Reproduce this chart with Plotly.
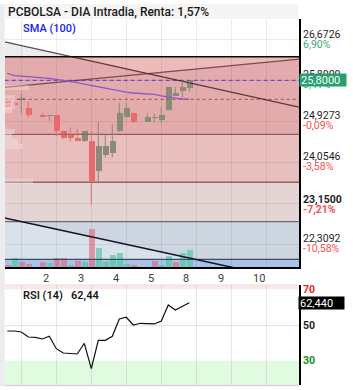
import plotly.graph_objects as go

W, H = 353, 390

# ---------------- data ----------------
idx = list(range(27))
opens = [25.395, 25.323, 25.390, 25.210, None, 25.061, 25.040, 25.061, 24.727, 24.650,
         24.565, 24.508, 24.508, 23.876, 24.210, 24.259, 24.727, 25.025, 25.110, None,
         24.919, 25.000, 24.955, 25.168, 25.472, 25.579, 25.630]
closes = [25.253, 25.268, 25.400, 25.068, None, 25.025, 25.045, 24.727, 24.578, 24.578,
          24.514, 24.721, 23.663, 24.401, 24.401, 24.508, 25.110, 25.217, 24.919, None,
          25.012, 25.005, 25.061, 25.664, 25.523, 25.664, 25.800]
highs = [25.423, 25.380, 25.508, 25.344, None, 25.097, 25.061, 25.061, 24.727, 24.799,
         24.763, 24.721, 24.721, 24.919, 24.650, 24.870, 25.317, 25.310, 25.110, None,
         25.097, 25.097, 25.238, 25.664, 25.651, 25.791, 25.800]
lows = [25.232, 25.253, 25.097, 25.012, None, 25.012, 24.940, 24.614, 24.550, 24.501,
        24.514, 24.487, 23.150, 23.607, 24.152, 24.161, 24.699, 25.012, 24.897, None,
        24.919, 24.912, 24.897, 25.153, 25.472, 25.417, 25.557]
volumes = [450, 2300, 1250, 700, None, 1250, 1060, 2400, 2400, 450,
           1600, 1300, 10000, 4950, 1300, 3100, 3700, 800, 530, None,
           None, 1600, 450, 2850, 1300, 3700, 4500]
vol_dir = ['d', 'u', 'd', 'd', None, 'd', 'u', 'd', 'd', 'u',
           'd', 'u', 'd', 'u', 'u', 'u', 'u', 'u', 'd', None,
           None, 'd', 'u', 'u', 'd', 'u', 'u']
sma100 = [25.95, 25.90, 25.89, 25.88, 25.87, 25.86, 25.84, 25.82, 25.80, 25.77,
          25.75, 25.72, 25.69, 25.66, 25.63, 25.60, 25.58, 25.55, 25.53, 25.525,
          25.52, 25.50, 25.47, 25.44, 25.42, 25.40, 25.40]
rsi14 = [46.65, 46.65, 46.09, 43.29, 43.10, 42.17, 43.68, 36.74, 34.33, 34.16,
         33.77, 39.76, 25.54, 41.44, 41.44, 43.68, 53.37, 54.32, 50.00, 50.96,
         50.96, 50.60, 52.25, 61.20, 58.41, 60.27, 62.44]

x_tick_pos = [5, 10, 15, 20, 25, 30, 35]
x_tick_labels = ['2', '3', '4', '5', '8', '9', '10']
grid_x = [2, 7, 12, 17, 22, 27, 32, 37]

price_grid = [26.6726, 25.7999, 24.9273, 24.0546, 23.1819, 22.3092]
label_values = [26.6726, 25.8000, 24.9273, 24.0546, 23.1500, 22.3092]
label_text = ['26,6726', '25,8000', '24,9273', '24,0546', '23,1500', '22,3092']
label_pct = ['6,90%', '3,41%', '-0,09%', '-3,58%', '-7,21%', '-10,58%']
label_bold = [False, False, False, False, True, False]

zone_edges = [26.30, 24.65, 23.63, 22.79, 21.99]
last_price = 25.80
ref_dotted = 25.395

trend_x = [-0.37, 41.67]
desc_y = [26.62, 25.23]
asc_y = [25.65, 26.25]
low_y = [22.87, 21.51]

vp_price = [25.647, 25.423, 25.338, 25.253, 25.157, 24.710, 24.614, 24.497, 24.391, 23.646]
vp_vol = [24, 10, 10, 10, 7, 10, 7, 13, 18, 28]

rsi_levels = [30, 50, 70]
rsi_last = 62.44

# ---------------- layout helpers ----------------
X_RANGE = [-0.371, 41.67]
Y_RANGE = [21.8258, 27.1047]
RSI_RANGE = [16.4, 72.4]
VOL_RANGE = [0, 65500]


def xp(px):
    return px / W


def yp(py):
    return 1 - py / H


XDOM = [xp(4.7), xp(299)]
YDOM = [yp(267), yp(19)]
Y2DOM = [yp(385), yp(285)]

UP_C = 'rgb(136,139,119)'
DN_C = 'rgb(232,107,107)'

fig = go.Figure()

# reference horizontal lines
fig.add_trace(go.Scatter(x=X_RANGE, y=[ref_dotted] * 2, mode='lines',
                         line=dict(color='rgb(150,80,80)', width=1, dash='dot'), hoverinfo='skip'))
fig.add_trace(go.Scatter(x=X_RANGE, y=[last_price] * 2, mode='lines',
                         line=dict(color='rgb(110,70,220)', width=1.3, dash='4px,3px'), hoverinfo='skip'))
# zone level lines (upper ones)
lvl_colors = ['rgb(10,10,10)', 'rgb(145,92,92)', 'rgb(140,100,100)']
lvl_widths = [1.6, 1.3, 1.3]
for lv, c, w in zip(zone_edges[:3], lvl_colors, lvl_widths):
    fig.add_trace(go.Scatter(x=X_RANGE, y=[lv, lv], mode='lines',
                             line=dict(color=c, width=w), hoverinfo='skip'))
# upper trend lines
fig.add_trace(go.Scatter(x=trend_x, y=desc_y, mode='lines',
                         line=dict(color='rgba(40,10,10,0.72)', width=1.3), hoverinfo='skip'))
fig.add_trace(go.Scatter(x=trend_x, y=asc_y, mode='lines',
                         line=dict(color='rgba(90,40,40,0.75)', width=1.3), hoverinfo='skip'))
# SMA
fig.add_trace(go.Scatter(x=idx, y=sma100, mode='lines',
                         line=dict(color='rgb(140,85,205)', width=1.3), hoverinfo='skip'))

# candles
for direction, col in (('u', UP_C), ('d', DN_C)):
    sel = [i for i in idx if opens[i] is not None and
           ((closes[i] >= opens[i]) == (direction == 'u'))]
    wx, wy = [], []
    for i in sel:
        wx += [i, i, None]
        wy += [lows[i], highs[i], None]
    fig.add_trace(go.Scatter(x=wx, y=wy, mode='lines', line=dict(color=col, width=1),
                             hoverinfo='skip'))
    fig.add_trace(go.Bar(x=sel, base=[min(opens[i], closes[i]) for i in sel],
                         y=[max(abs(closes[i] - opens[i]), 0.012) for i in sel],
                         width=0.85, marker=dict(color=col, line=dict(width=0)),
                         hoverinfo='skip'))

# volume (overlay axis)
vcol = {'u': 'rgba(60,200,150,0.6)', 'd': 'rgba(235,90,105,0.55)'}
vsel = [i for i in idx if volumes[i]]
fig.add_trace(go.Bar(x=vsel, y=[volumes[i] for i in vsel], yaxis='y3', width=0.85,
                     marker=dict(color=[vcol[vol_dir[i]] for i in vsel], line=dict(width=0)),
                     hoverinfo='skip'))

# volume profile (overlay x axis)
fig.add_trace(go.Bar(y=vp_price, x=vp_vol, orientation='h', xaxis='x3', width=0.11,
                     marker=dict(color='rgba(245,238,238,0.35)', line=dict(width=0)),
                     hoverinfo='skip'))

# RSI
fig.add_trace(go.Scatter(x=idx, y=rsi14, mode='lines', xaxis='x2', yaxis='y2',
                         line=dict(color='rgb(15,15,15)', width=1.2), hoverinfo='skip'))

shapes = []
# zone fills
zone_cols = ['rgb(227,171,171)', 'rgb(233,190,190)', 'rgb(229,212,212)',
             'rgb(205,214,224)', 'rgb(168,194,232)']
edges = zone_edges + [Y_RANGE[0]]
for k in range(5):
    shapes.append(dict(type='rect', xref='x domain', yref='y', x0=0, x1=1,
                       y0=edges[k + 1], y1=edges[k], fillcolor=zone_cols[k],
                       line=dict(width=0), layer='below'))


def line_at(ys, x):
    return ys[0] + (ys[1] - ys[0]) * (x - trend_x[0]) / (trend_x[1] - trend_x[0])


def x_at(ys, y):
    return trend_x[0] + (y - ys[0]) * (trend_x[1] - trend_x[0]) / (ys[1] - ys[0])


# gray triangle below descending line, above top zone
xa = x_at(desc_y, zone_edges[0])
shapes.append(dict(type='path', xref='x', yref='y', layer='below',
                   path=f'M {X_RANGE[0]},{zone_edges[0]} L {X_RANGE[0]},{line_at(desc_y, X_RANGE[0])} L {xa},{zone_edges[0]} Z',
                   fillcolor='rgb(236,236,236)', line=dict(width=0)))
# lighter pink above both trend lines in top zone
slope_d = (desc_y[1] - desc_y[0])
slope_a = (asc_y[1] - asc_y[0])
t = (asc_y[0] - desc_y[0]) / (slope_d - slope_a)
xc = trend_x[0] + t * (trend_x[1] - trend_x[0])
shapes.append(dict(type='path', xref='x', yref='y', layer='below',
                   path=(f'M {xa},{zone_edges[0]} L {X_RANGE[1]},{zone_edges[0]} '
                         f'L {X_RANGE[1]},{line_at(asc_y, X_RANGE[1])} L {xc},{line_at(desc_y, xc)} Z'),
                   fillcolor='rgb(238,187,187)', line=dict(width=0)))
# lighter part of zone D below the lower trend line
x1 = x_at(low_y, zone_edges[3])
x2 = x_at(low_y, zone_edges[4])
shapes.append(dict(type='path', xref='x', yref='y', layer='below',
                   path=(f'M {X_RANGE[0]},{zone_edges[3]} L {x1},{zone_edges[3]} '
                         f'L {x2},{zone_edges[4]} L {X_RANGE[0]},{zone_edges[4]} Z'),
                   fillcolor='rgb(217,225,234)', line=dict(width=0)))
# lower lines on top of volume
shapes.append(dict(type='line', xref='x domain', yref='y', x0=0, x1=1,
                   y0=zone_edges[3], y1=zone_edges[3], line=dict(color='rgb(105,108,122)', width=1.3)))
shapes.append(dict(type='line', xref='x domain', yref='y', x0=0, x1=1,
                   y0=zone_edges[4], y1=zone_edges[4], line=dict(color='rgb(65,75,95)', width=1.3)))
shapes.append(dict(type='line', xref='x', yref='y', x0=trend_x[0], x1=trend_x[1],
                   y0=low_y[0], y1=low_y[1], line=dict(color='rgb(20,20,40)', width=1.5)))
# RSI zones
shapes.append(dict(type='rect', xref='x2 domain', yref='y2', x0=0, x1=1, y0=70, y1=RSI_RANGE[1],
                   fillcolor='rgb(253,232,232)', line=dict(width=0), layer='below'))
shapes.append(dict(type='rect', xref='x2 domain', yref='y2', x0=0, x1=1, y0=RSI_RANGE[0], y1=30,
                   fillcolor='rgb(224,251,224)', line=dict(width=0), layer='below'))
# frame pieces
shapes.append(dict(type='rect', xref='paper', yref='paper', x0=0, x1=xp(4.7), y0=yp(386), y1=yp(4),
                   fillcolor='rgb(236,236,236)', line=dict(width=0)))
shapes.append(dict(type='rect', xref='paper', yref='paper', x0=xp(4.7), x1=xp(298), y0=yp(19), y1=yp(4),
                   fillcolor='rgb(244,244,244)', line=dict(width=0)))
shapes.append(dict(type='line', xref='paper', yref='paper', x0=xp(4.7), x1=xp(299), y0=yp(285), y1=yp(285),
                   line=dict(color='rgb(225,225,225)', width=1)))
shapes.append(dict(type='line', xref='paper', yref='paper', x0=xp(4.7), x1=xp(299), y0=yp(385.5), y1=yp(385.5),
                   line=dict(color='rgb(215,215,215)', width=1.5)))

ann = []
FONT = 'Roboto'
ann.append(dict(xref='paper', yref='paper', x=xp(6), y=yp(12), xanchor='left', yanchor='middle',
                text='PCBOLSA - DIA Intradia, Renta: 1,57%', showarrow=False,
                font=dict(family=FONT, size=12, color='rgb(25,25,25)', weight=500)))
ann.append(dict(xref='paper', yref='paper', x=xp(21), y=yp(29), xanchor='left', yanchor='middle',
                text='SMA (100)', showarrow=False,
                font=dict(family=FONT, size=11, color='rgb(25,35,230)', weight=500)))
for v, tx, pc, b in zip(label_values, label_text, label_pct, label_bold):
    pcol = 'rgb(60,170,120)' if not pc.startswith('-') else 'rgb(245,80,80)'
    ann.append(dict(xref='paper', yref='y', x=xp(300.5), y=v, xanchor='left', yanchor='middle',
                    yshift=5.3, text=tx, showarrow=False,
                    font=dict(family=FONT, size=10.5, color='rgb(30,30,30)', weight=700 if b else 400)))
    ann.append(dict(xref='paper', yref='y', x=xp(300.5), y=v, xanchor='left', yanchor='middle',
                    yshift=-4.7, text=pc, showarrow=False,
                    font=dict(family=FONT, size=10.5, color=pcol, weight=700 if b else 400)))
ann.append(dict(xref='paper', yref='y', x=xp(298.5), y=last_price, xanchor='left', yanchor='middle',
                text='25,8000', showarrow=False, bgcolor='rgb(38,160,112)', width=44, height=10,
                borderpad=1, align='left', font=dict(family=FONT, size=11, color='white')))
# RSI annotations
rsi_cols = {30: 'rgb(20,140,20)', 50: 'rgb(30,30,30)', 70: 'rgb(230,30,30)'}
for lv in rsi_levels:
    ann.append(dict(xref='paper', yref='y2', x=xp(300.5), y=lv, xanchor='left', yanchor='middle',
                    text=str(lv), showarrow=False,
                    font=dict(family=FONT, size=10.5, color=rsi_cols[lv], weight=700)))
ann.append(dict(xref='paper', yref='y2', x=xp(298.3), y=rsi_last, xanchor='left', yanchor='middle',
                text='62,440', showarrow=False, bgcolor='black', width=43, height=10,
                borderpad=1, align='left', font=dict(family=FONT, size=11, color='white')))
ann.append(dict(xref='paper', yref='paper', x=xp(21), y=yp(295), xanchor='left', yanchor='middle',
                text='RSI (14)   62,44', showarrow=False,
                font=dict(family=FONT, size=11, color='rgb(25,25,25)', weight=600)))

GRIDC = 'rgba(0,0,0,0.075)'
fig.update_layout(
    width=W, height=H, autosize=False,
    margin=dict(l=0, r=0, t=0, b=0),
    paper_bgcolor='white', plot_bgcolor='white',
    showlegend=False, barmode='overlay', bargap=0,
    font=dict(family=FONT),
    shapes=shapes, annotations=ann,
    xaxis=dict(domain=XDOM, range=X_RANGE, anchor='y',
               tickmode='array', tickvals=x_tick_pos, ticktext=x_tick_labels,
               ticklabelposition='outside right',
               showgrid=False, zeroline=False, ticks='',
               tickfont=dict(size=11, color='rgb(60,60,60)'),
               showline=True, linecolor='black', linewidth=1.5,
               minor=dict(tickmode='array', tickvals=grid_x, showgrid=True,
                          gridcolor=GRIDC, gridwidth=1, ticks='')),
    yaxis=dict(domain=YDOM, range=Y_RANGE, side='right', anchor='x',
               tickmode='array', tickvals=price_grid, showticklabels=False,
               showgrid=True, gridcolor=GRIDC, zeroline=False, ticks='',
               showline=True, linecolor='black', linewidth=1.5),
    yaxis3=dict(overlaying='y', range=VOL_RANGE, visible=False, anchor='x'),
    xaxis3=dict(overlaying='x', range=[0, 294.3], visible=False, anchor='y'),
    xaxis2=dict(domain=XDOM, range=X_RANGE, anchor='y2', matches='x',
                showticklabels=False, showgrid=False, zeroline=False, ticks='',
                tickvals=x_tick_pos,
                minor=dict(tickmode='array', tickvals=grid_x, showgrid=True,
                           gridcolor='rgba(0,0,0,0.09)', gridwidth=1, ticks='')),
    yaxis2=dict(domain=Y2DOM, range=RSI_RANGE, side='right', anchor='x2',
                tickmode='array', tickvals=[50], showticklabels=False,
                showgrid=True, gridcolor='rgba(0,0,0,0.1)', zeroline=False, ticks='',
                showline=True, linecolor='black', linewidth=1.5),
)

fig.write_html('out.html')
